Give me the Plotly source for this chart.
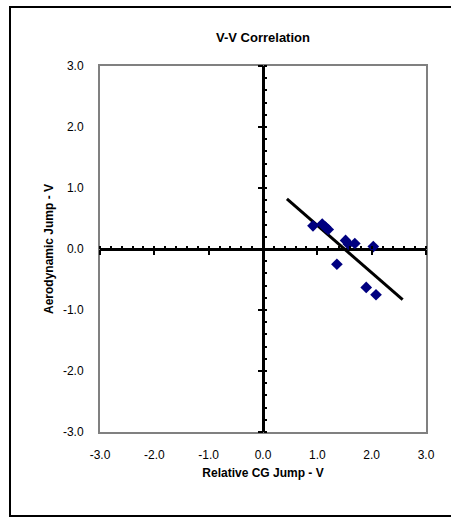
import plotly.graph_objects as go

# Data
cg_jump = [0.92, 1.09, 1.15, 1.20, 1.36, 1.52, 1.57, 1.69, 2.03, 1.90, 2.08]
aero_jump = [0.38, 0.41, 0.36, 0.32, -0.25, 0.14, 0.08, 0.09, 0.04, -0.63, -0.75]

trend_x = [0.44, 2.57]
trend_y = [0.82, -0.83]

axis_ticks = [-3, -2, -1, 0, 1, 2, 3]
axis_labels = ["-3.0", "-2.0", "-1.0", "0.0", "1.0", "2.0", "3.0"]

FONT = "Liberation Sans, Arial, sans-serif"

fig = go.Figure()

fig.add_trace(go.Scatter(
    x=trend_x, y=trend_y, mode="lines",
    line=dict(color="black", width=3), showlegend=False, hoverinfo="skip"))

fig.add_trace(go.Scatter(
    x=cg_jump, y=aero_jump, mode="markers",
    marker=dict(symbol="diamond", color="#000080", size=9,
                line=dict(width=0)),
    showlegend=False))

# invisible traces to activate overlay axes
for xa, ya in [("x2", "y"), ("x", "y2"), ("x3", "y"), ("x", "y3")]:
    fig.add_trace(go.Scatter(x=[0], y=[0], xaxis=xa, yaxis=ya, mode="markers",
                             marker=dict(opacity=0), showlegend=False,
                             hoverinfo="skip"))

rng = [-3, 3]

main_axis = dict(
    range=rng, tickmode="array", tickvals=axis_ticks, ticktext=axis_labels,
    showline=True, mirror=True, linecolor="#808080", linewidth=2,
    showgrid=False, zeroline=True, zerolinecolor="black", zerolinewidth=3,
    ticks="", tickfont=dict(family=FONT, size=12, color="black"),
    fixedrange=True,
)

def overlay(over, side, ticks, ticklen, minor=None):
    d = dict(range=rng, overlaying=over, anchor="free", position=0.5,
             side=side, showline=False, showgrid=False, zeroline=False,
             showticklabels=False, tickmode="linear", tick0=-3, dtick=1,
             ticks=ticks, ticklen=ticklen, tickwidth=2, tickcolor="black",
             fixedrange=True)
    if minor:
        d["minor"] = minor
    return d

minor_ticks = dict(dtick=0.2, tick0=-3, ticks="inside", ticklen=3,
                   tickwidth=2, tickcolor="black", showgrid=False)

fig.update_layout(
    width=451, height=517,
    margin=dict(l=100, r=25, t=66, b=85),
    paper_bgcolor="white", plot_bgcolor="white",
    font=dict(family=FONT, color="black"),
    title=dict(text="<b>V-V Correlation</b>", x=0.5, xref="paper",
               y=1 - 37 / 517, yref="container", yanchor="middle",
               font=dict(family=FONT, size=13, color="black")),
    xaxis=dict(main_axis, ticklabelstandoff=11,
               title=dict(text="<b>Relative CG Jump - V</b>", standoff=7,
                          font=dict(family=FONT, size=12, color="black"))),
    yaxis=dict(main_axis, ticklabelstandoff=12,
               title=dict(text="<b>Aerodynamic Jump - V</b>", standoff=7,
                          font=dict(family=FONT, size=12, color="black"))),
    xaxis2=overlay("x", "bottom", "outside", 5, minor_ticks),
    xaxis3=overlay("x", "bottom", "inside", 3),
    yaxis2=overlay("y", "left", "outside", 5, minor_ticks),
    yaxis3=overlay("y", "left", "inside", 3),
    shapes=[dict(type="rect", xref="paper", yref="paper",
                 x0=(10 - 100) / 326, x1=(520 - 100) / 326,
                 y0=(432 - 516) / 366, y1=(432 - 7) / 366,
                 line=dict(color="black", width=2), fillcolor="rgba(0,0,0,0)",
                 layer="below")],
)

fig.write_html("out.html")
